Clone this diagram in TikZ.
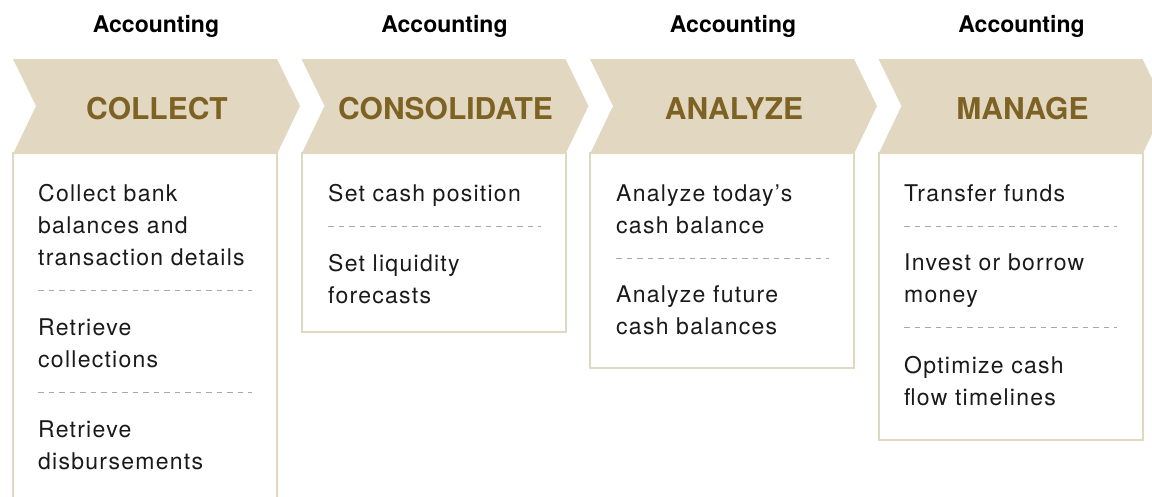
\documentclass[tikz,border=0pt]{standalone}
\usepackage{fontspec}
\setmainfont{TeX Gyre Heros}
\definecolor{beige}{HTML}{E2D8C2}
\definecolor{gold}{HTML}{7D6224}
\definecolor{dashgray}{HTML}{A8A8A8}
\definecolor{ink}{HTML}{1A1A1A}
\tikzset{
  headtxt/.style={anchor=base, inner sep=0pt, text=black, font=\fontsize{23}{28}\selectfont\bfseries},
  titletxt/.style={anchor=base, inner sep=0pt, text=gold, font=\fontsize{30}{36}\selectfont\bfseries},
  item/.style={anchor=base west, inner sep=0pt, text=ink, font=\fontsize{23}{32}\selectfont\addfontfeature{LetterSpace=5.5}},
  boxframe/.style={draw=beige, line width=2pt, fill=white},
  chev/.style={fill=beige, draw=none},
  sep/.style={draw=dashgray, line width=0.8pt, dash pattern=on 5.5pt off 5pt}
}
\begin{document}
\begin{tikzpicture}[x=1pt,y=-1pt]
\useasboundingbox (0,0) rectangle (1152,496);
\clip (0,0) rectangle (1152,496);
\foreach \i/\t/\b in {0/COLLECT/520,1/CONSOLIDATE/332,2/ANALYZE/368,3/MANAGE/440}{
  \pgfmathsetmacro\L{13+288.5*\i}
  \draw[boxframe] (\L,153) rectangle (\L+264,\b);
  \fill[chev] (\L,59) -- (\L+264,59) -- (\L+287,106) -- (\L+264,154) -- (\L,154) -- (\L+23,106) -- cycle;
  \node[titletxt] (title\i) at (\L+144,119) {\t};
  \node[headtxt] (head\i) at (\L+143,32) {Accounting};
}
% column 1
\node[item] (a1) at (38,201) {Collect bank};
\node[item] (a2) at (38,233) {balances and};
\node[item] (a3) at (38,265) {transaction details};
\coordinate (d1s) at (38,290); \coordinate (d1e) at (252,290);
\draw[sep] (d1s) -- (d1e);
\node[item] (a4) at (38,335) {Retrieve};
\node[item] (a5) at (38,367) {collections};
\coordinate (d2s) at (38,392); \coordinate (d2e) at (252,392);
\draw[sep] (d2s) -- (d2e);
\node[item] (a6) at (38,437) {Retrieve};
\node[item] (a7) at (38,469) {disbursements};
% column 2
\node[item] (b1) at (328,201) {Set cash position};
\coordinate (d3s) at (328,226); \coordinate (d3e) at (541,226);
\draw[sep] (d3s) -- (d3e);
\node[item] (b2) at (328,271) {Set liquidity};
\node[item] (b3) at (328,303) {forecasts};
% column 3
\node[item] (c1) at (616,201) {Analyze today’s};
\node[item] (c2) at (616,233) {cash balance};
\coordinate (d4s) at (616,258); \coordinate (d4e) at (829,258);
\draw[sep] (d4s) -- (d4e);
\node[item] (c3) at (616,302) {Analyze future};
\node[item] (c4) at (616,334) {cash balances};
% column 4
\node[item] (e1) at (904,201) {Transfer funds};
\coordinate (d5s) at (904,226); \coordinate (d5e) at (1117,226);
\draw[sep] (d5s) -- (d5e);
\node[item] (e2) at (904,270) {Invest or borrow};
\node[item] (e3) at (904,302) {money};
\coordinate (d6s) at (904,327); \coordinate (d6e) at (1117,327);
\draw[sep] (d6s) -- (d6e);
\node[item] (e4) at (904,373) {Optimize cash};
\node[item] (e5) at (904,405) {flow timelines};
\end{tikzpicture}
\end{document}
